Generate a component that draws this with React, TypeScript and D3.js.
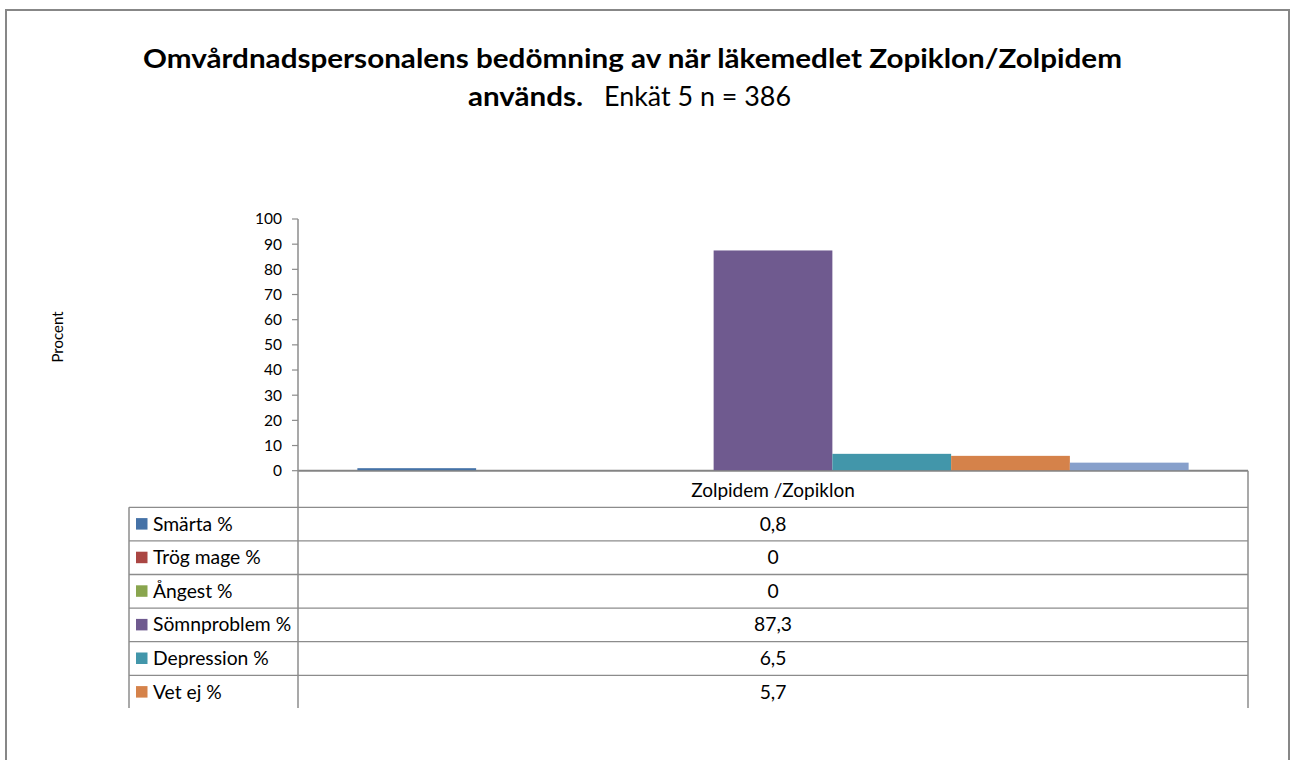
import React from "react";
import * as d3 from "d3";

const categories = ["Zolpidem /Zopiklon"];
const seriesNames = ["Smärta %", "Trög mage %", "Ångest %", "Sömnproblem %", "Depression %", "Vet ej %", "7"];
const seriesValues = [0.8, 0, 0, 87.3, 6.5, 5.7, 3.0];
const tableLabels = ["0,8", "0", "0", "87,3", "6,5", "5,7"];
const seriesColors = ["#4572A7", "#AA4643", "#89A54E", "#6F5A8F", "#4296AA", "#D5824A", "#87A0CB"];
const yTicks = [0, 10, 20, 30, 40, 50, 60, 70, 80, 90, 100];

const W = 1290;
const H = 760;
const FONT = "Lato, 'Open Sans', sans-serif";
const GRID = "#8c8c8c";

export default function App() {
  const plotLeft = 298;
  const plotRight = 1248;
  const y = d3.scaleLinear().domain([0, 100]).range([470.7, 219]);
  const x0 = d3.scaleBand<string>().domain(categories).range([plotLeft, plotRight]).paddingInner(0).paddingOuter(1 / 14);
  const x1 = d3.scaleBand<string>().domain(seriesNames).range([0, x0.bandwidth()]).padding(0);

  const tableLeft = 129;
  const headerTop = y(0);
  const rowTop = 507.3;
  const rowH = 33.6;
  const tableBottom = 708;
  const visibleRows = 6;

  return (
    <svg width={W} height={H} style={{ position: "absolute", left: 0, top: 0, display: "block" }} fontFamily={FONT}>
      <rect x={0} y={0} width={W} height={H} fill="#fff" />
      <rect x={6} y={10} width={1283} height={800} fill="none" stroke="#878787" strokeWidth={2} />

      {/* Title */}
      <text x={143} y={67.7} fontSize={27} fontWeight="bold" fill="#000" textLength={979} lengthAdjust="spacingAndGlyphs">
        Omvårdnadspersonalens bedömning av när läkemedlet Zopiklon/Zolpidem
      </text>
      <text x={468} y={105.7} fontSize={27} fontWeight="bold" fill="#000" textLength={115} lengthAdjust="spacingAndGlyphs">
        används.
      </text>
      <text x={604} y={105.7} fontSize={27} fill="#000" textLength={187} lengthAdjust="spacingAndGlyphs">
        Enkät 5 n = 386
      </text>

      {/* Y axis label */}
      <text transform="translate(63,337) rotate(-90)" textAnchor="middle" fontSize={15} fill="#000">
        Procent
      </text>

      {/* X axis */}
      <line x1={plotLeft} x2={plotRight} y1={y(0)} y2={y(0)} stroke="#848484" strokeWidth={2} />

      {/* Bars */}
      {categories.map((c) => (
        <g key={c} transform={`translate(${x0(c)},0)`}>
          {seriesNames.map((s, i) => {
            const v = seriesValues[i];
            if (v <= 0) return null;
            return (
              <rect
                key={s}
                x={x1(s)}
                y={y(v) - 0.5}
                width={x1.bandwidth()}
                height={y(0) - y(v)}
                fill={seriesColors[i]}
              />
            );
          })}
        </g>
      ))}

      {/* Y axis */}
      <line x1={plotLeft} x2={plotLeft} y1={y(100)} y2={tableBottom} stroke={GRID} strokeWidth={1.5} />
      {yTicks.map((t) => (
        <g key={t}>
          <line x1={plotLeft - 6} x2={plotLeft} y1={y(t)} y2={y(t)} stroke={GRID} strokeWidth={1.2} />
          <text x={282} y={y(t)} dy="0.35em" textAnchor="end" fontSize={15.5} fill="#000">
            {t}
          </text>
        </g>
      ))}

      {/* Data table */}
      <line x1={plotRight} x2={plotRight} y1={headerTop} y2={tableBottom} stroke={GRID} strokeWidth={1.5} />
      <line x1={tableLeft} x2={tableLeft} y1={rowTop} y2={tableBottom} stroke={GRID} strokeWidth={1.5} />
      {categories.map((c) => (
        <text key={c} x={(x0(c) as number) + x0.bandwidth() / 2} y={496.5} textAnchor="middle" fontSize={19} fill="#000">
          {c}
        </text>
      ))}
      {seriesNames.slice(0, visibleRows).map((s, i) => {
        const top = rowTop + i * rowH;
        return (
          <g key={s}>
            <line x1={tableLeft} x2={plotRight} y1={top} y2={top} stroke={GRID} strokeWidth={1.3} />
            <rect x={136} y={top + rowH / 2 - 6} width={11.5} height={11.5} fill={seriesColors[i]} />
            <text x={153} y={top + rowH / 2 + 6.5} fontSize={19.3} fill="#000">
              {s}
            </text>
            <text x={(plotLeft + plotRight) / 2} y={top + rowH / 2 + 6.5} textAnchor="middle" fontSize={19.3} fill="#000">
              {tableLabels[i]}
            </text>
          </g>
        );
      })}
    </svg>
  );
}
